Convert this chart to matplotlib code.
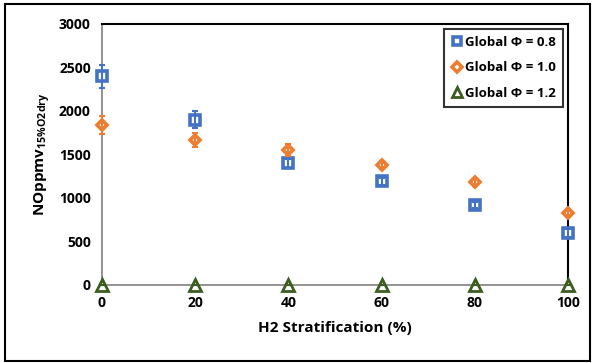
import matplotlib.pyplot as plt
from matplotlib.patches import Rectangle
from matplotlib.lines import Line2D

plt.rcParams['font.family'] = ['Open Sans', 'DejaVu Sans']

h2_strat = [0, 20, 40, 60, 80, 100]

no_08 = [2400, 1900, 1400, 1190, 920, 600]
err_08 = [130, 100, 50, 45, 35, 45]
no_10 = [1840, 1670, 1550, 1380, 1180, 830]
err_10 = [100, 80, 70, 50, 40, 30]
no_12 = [0, 0, 0, 0, 0, 0]
err_12 = [0, 0, 0, 0, 0, 0]

labels = ['Global Φ = 0.8', 'Global Φ = 1.0', 'Global Φ = 1.2']
colors = ['#4472C4', '#ED7D31', '#3B5E20']
markers = ['s', 'D', '^']
sizes = [7.5, 5.5, 9]
edges = [2.6, 2.6, 2.0]

fig = plt.figure(figsize=(5.95, 3.63), dpi=100)
ax = fig.add_axes([0.1714, 0.2149, 0.7832, 0.719])

handles = []
for y, e, lab, c, m, s, w in zip([no_08, no_10, no_12], [err_08, err_10, err_12],
                                 labels, colors, markers, sizes, edges):
    ax.plot(h2_strat, y, ls='none', marker=m, ms=s, mfc='white', mec=c,
            mew=w, clip_on=False, zorder=3)
    ax.errorbar(h2_strat, y, yerr=e, fmt='none', ecolor=c, elinewidth=1.5,
                capsize=2.5, capthick=1.5, clip_on=False, zorder=4)
    handles.append(Line2D([], [], ls='none', marker=m, ms=s * 0.85, mfc='white',
                          mec=c, mew=w, label=lab))

ax.set_xlim(0, 100)
ax.set_ylim(0, 3000)
ax.set_xticks(h2_strat)
ax.set_yticks(range(0, 3001, 500))
ax.tick_params(length=0, labelsize=10, pad=8)
for t in ax.get_xticklabels() + ax.get_yticklabels():
    t.set_fontweight('bold')

for side in ['left', 'bottom']:
    ax.spines[side].set_color('#808080')
    ax.spines[side].set_linewidth(1.2)
for side in ['top', 'right']:
    ax.spines[side].set_color('black')
    ax.spines[side].set_linewidth(1.5)

ax.set_xlabel('H2 Stratification (%)', fontsize=11, fontweight='bold', labelpad=8)
ax.set_ylabel(r'NOppmv$_{\mathregular{15\%O2dry}}$', fontsize=11,
              fontweight='bold', labelpad=4)

leg = ax.legend(handles=handles, loc='upper right', fontsize=9.5, frameon=True,
                fancybox=False, edgecolor='black', handletextpad=0.1,
                handlelength=1.0, labelspacing=0.95, borderpad=0.5,
                borderaxespad=0.4)
leg.get_frame().set_linewidth(1.5)
for t in leg.get_texts():
    t.set_fontweight('bold')

fig.patches.append(Rectangle((0.008, 0.005), 0.984, 0.985, transform=fig.transFigure,
                             fill=False, edgecolor='black', linewidth=1.5))

fig.savefig('out.png', dpi=100)
